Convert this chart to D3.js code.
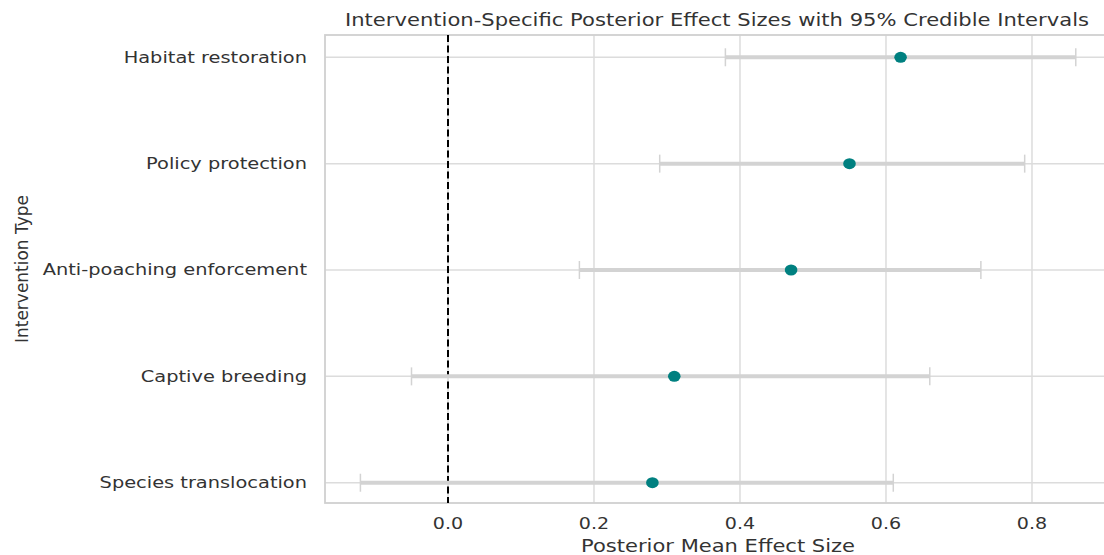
<!DOCTYPE html>
<html><head><meta charset="utf-8">
<script src="https://cdn.jsdelivr.net/npm/d3@7"></script>
<style>body{margin:0;background:#fff}svg{display:block}text{font-family:"DejaVu Sans",sans-serif;fill:#333}</style>
</head><body><div id="c"></div>
<script>
const categories = ["Habitat restoration","Policy protection","Anti-poaching enforcement","Captive breeding","Species translocation"];
const means = [0.62,0.55,0.47,0.31,0.28];
const lower = [0.38,0.29,0.18,-0.05,-0.12];
const upper = [0.86,0.79,0.73,0.66,0.61];
const xTicks = [0.0,0.2,0.4,0.6,0.8];

const W=1104,H=555;
const svg=d3.select("#c").append("svg").attr("width",W).attr("height",H);
const L=325,R=1106,T=35,B=503;
const x=d3.scaleLinear().domain([-0.1685,0.9014]).range([L,R]);
const y=d3.scalePoint().domain(categories).range([T+1,B+1]).padding(0.2);

// grid
svg.append("g").selectAll("line").data(xTicks).join("line")
 .attr("x1",d=>x(d)).attr("x2",d=>x(d)).attr("y1",T).attr("y2",B)
 .attr("stroke","#dcdcdc").attr("stroke-width",1.5);
svg.append("g").selectAll("line").data(categories).join("line")
 .attr("x1",L).attr("x2",R).attr("y1",d=>y(d)).attr("y2",d=>y(d))
 .attr("stroke","#dcdcdc").attr("stroke-width",1.5);
// spines
svg.append("rect").attr("x",L).attr("y",T).attr("width",R-L).attr("height",B-T)
 .attr("fill","none").attr("stroke","#d0d0d0").attr("stroke-width",1.8);

// zero line
svg.append("line").attr("x1",x(0)).attr("x2",x(0)).attr("y1",T).attr("y2",B)
 .attr("stroke","#000").attr("stroke-width",2).attr("stroke-dasharray","7,3.5");

// error bars
const g=svg.append("g");
categories.forEach((c,i)=>{
  const yy=y(c);
  g.append("line").attr("x1",x(lower[i])).attr("x2",x(upper[i])).attr("y1",yy).attr("y2",yy)
   .attr("stroke","#d3d3d3").attr("stroke-width",4);
  [lower[i],upper[i]].forEach(v=>{
    g.append("line").attr("x1",x(v)).attr("x2",x(v)).attr("y1",yy-9).attr("y2",yy+9)
     .attr("stroke","#d3d3d3").attr("stroke-width",1.5);
  });
  g.append("ellipse").attr("cx",x(means[i])).attr("cy",yy).attr("rx",6.3).attr("ry",5.5).attr("fill","#008080");
});

function widen(sel,f){sel.each(function(){const w=this.getComputedTextLength();d3.select(this).attr("textLength",w*f).attr("lengthAdjust","spacingAndGlyphs");});}
// tick labels
const yl=svg.append("g").selectAll("text").data(categories).join("text")
 .attr("x",307).attr("y",d=>y(d)).attr("dy","0.35em").attr("text-anchor","end")
 .attr("font-size",15.5).text(d=>d);
widen(yl,1.25);
const xl=svg.append("g").selectAll("text").data(xTicks).join("text")
 .attr("x",d=>x(d)).attr("y",524).attr("dy","0.35em").attr("text-anchor","middle")
 .attr("font-size",15.5).text(d=>d3.format(".1f")(d));
widen(xl,1.23);

// titles
svg.append("text").attr("x",717).attr("y",26).attr("text-anchor","middle").attr("font-size",18)
 .attr("textLength",744).attr("lengthAdjust","spacingAndGlyphs")
 .text("Intervention-Specific Posterior Effect Sizes with 95% Credible Intervals");
svg.append("text").attr("x",718).attr("y",552).attr("text-anchor","middle").attr("font-size",17)
 .attr("textLength",274).attr("lengthAdjust","spacingAndGlyphs")
 .text("Posterior Mean Effect Size");
svg.append("text").attr("transform","translate(28,269) rotate(-90)").attr("text-anchor","middle").attr("font-size",18)
 .attr("textLength",148).attr("lengthAdjust","spacingAndGlyphs")
 .text("Intervention Type");
</script></body></html>
